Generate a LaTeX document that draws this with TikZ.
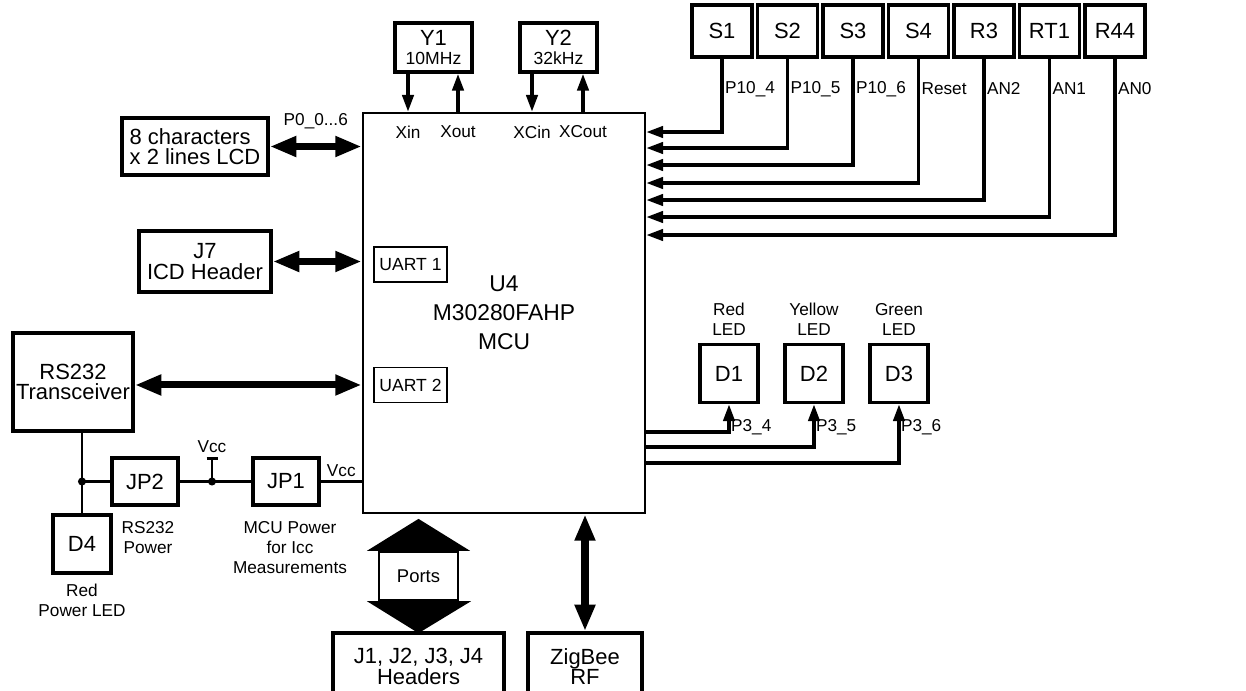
\documentclass[tikz,border=0pt]{standalone}
\usepackage{fontspec}
\setmainfont{Liberation Sans}
\usetikzlibrary{arrows.meta,positioning}

\newcommand{\bigtxt}{\fontsize{12.5}{11.5}\selectfont}
\newcommand{\smalltxt}{\fontsize{9.8}{11.3}\selectfont}

\tikzstyle{block} = [draw, rectangle, line width=2.2pt, fill=white, text centered, align=center, inner sep=0pt, font=\bigtxt]
\tikzstyle{swbox} = [block, minimum width=1.2cm, minimum height=1.04cm]
\tikzstyle{ledbox} = [block, minimum width=1.16cm, minimum height=1.16cm]
\tikzstyle{jpbox} = [block, minimum width=1.32cm, minimum height=0.94cm]
\tikzstyle{xtal} = [block, minimum width=1.54cm, minimum height=0.98cm]
\tikzstyle{uart} = [draw, rectangle, line width=0.9pt, inner sep=0pt, minimum width=1.46cm, minimum height=0.7cm, font=\fontsize{10}{11}\selectfont]
\tikzstyle{pin} = [font=\smalltxt, inner sep=1pt, align=center]
\tikzstyle{sig} = [draw, line width=1.8pt, -{Triangle[length=9.5pt,width=6.5pt]}]
\tikzstyle{bus} = [draw, line width=4pt, {Triangle[length=15pt,width=11pt]}-{Triangle[length=15pt,width=11pt]}]
\tikzstyle{wire} = [draw, line width=1.7pt]

\begin{document}
\begin{tikzpicture}[x=0.02cm, y=-0.02cm, node distance=1.31cm]
    \useasboundingbox (0,0) rectangle (1246,690);
    \clip (0,0) rectangle (1246,690);
    % Place nodes
    \node [block, line width=1.6pt, minimum width=5.64cm, minimum height=8cm, font=\fontsize{13}{16.4}\selectfont] (mcu) at (504,313) {U4\\M30280FAHP\\MCU};
    \node [uart] (uart1) at (410.5,264.5) {UART 1};
    \node [uart, below of=uart1, node distance=2.41cm] (uart2) {UART 2};
    \node [xtal] (y1) at (433.5,47.5) {Y1\\[-1pt]{\fontsize{10}{11}\selectfont 10MHz}};
    \node [xtal, right of=y1, node distance=2.5cm] (y2) {Y2\\[-1pt]{\fontsize{10}{11}\selectfont 32kHz}};
    \node [pin] (xin) at (408,132) {Xin};
    \node [pin] (xout) at (458,132) {Xout};
    \node [pin] (xcin) at (532,132) {XCin};
    \node [pin] (xcout) at (583,132) {XCout};
    \node [swbox] (s1) at (722,31) {S1};
    \node [swbox, right of=s1] (s2) {S2};
    \node [swbox, right of=s2] (s3) {S3};
    \node [swbox, right of=s3] (s4) {S4};
    \node [swbox, right of=s4] (r3) {R3};
    \node [swbox, right of=r3] (rt1) {RT1};
    \node [swbox, right of=rt1] (r44) {R44};
    \node [block, align=left, minimum width=2.92cm, minimum height=1.14cm] (lcd) at (195,146.5) {8 characters\\x 2 lines LCD};
    \node [block, minimum width=2.64cm, minimum height=1.22cm] (j7) at (205,261.5) {J7\\ICD Header};
    \node [block, minimum width=2.4cm, minimum height=1.96cm] (rs) at (73,382) {RS232\\Transceiver};
    \node [jpbox] (jp2) at (145,481.5) {JP2};
    \node [jpbox, right of=jp2, node distance=2.82cm] (jp1) {JP1};
    \node [ledbox] (d4) at (82,544) {D4};
    \node [pin, below=4pt of d4] (d4lbl) {Red\\Power LED};
    \node [pin, below=7pt of jp2, xshift=0.06cm] (jp2lbl) {RS232\\Power};
    \node [pin, below=7pt of jp1, xshift=0.08cm] (jp1lbl) {MCU Power\\for Icc\\Measurements};
    \node [ledbox] (d1) at (729,373.5) {D1};
    \node [ledbox, right of=d1, node distance=1.7cm] (d2) {D2};
    \node [ledbox, right of=d2, node distance=1.7cm] (d3) {D3};
    \node [pin, above=3pt of d1] (d1lbl) {Red\\LED};
    \node [pin, above=3pt of d2] (d2lbl) {Yellow\\LED};
    \node [pin, above=3pt of d3] (d3lbl) {Green\\LED};
    \node [draw, line width=1.3pt, minimum width=1.58cm, minimum height=0.96cm, font=\fontsize{10.5}{12}\selectfont] (ports) at (418.5,576) {Ports};
    \node [block, minimum width=3.42cm, minimum height=1.34cm] (hdr) at (418.5,666.5) {J1, J2, J3, J4\\Headers};
    \node [block, minimum width=2.28cm, minimum height=1.34cm] (zig) at (585,666.5) {ZigBee\\RF};
    % Draw edges
    \draw [sig] (y1.south -| xin) -- (mcu.north -| xin);
    \draw [sig] (mcu.north -| xout) -- (y1.south -| xout);
    \draw [sig] (y2.south -| xcin) -- (mcu.north -| xcin);
    \draw [sig] (mcu.north -| xcout) -- (y2.south -| xcout);
    \foreach \nm/\yy/\lab in {s1/132/P10\_4, s2/148/P10\_5, s3/165/P10\_6, s4/183/Reset, r3/200/AN2, rt1/217/AN1, r44/235/AN0} {
        \draw [sig] (\nm.south) |- (mcu.east |- 0,\yy);
        \node [pin, anchor=west] at ([shift={(1,30)}]\nm.south) {\lab};
    }
    \foreach \nm/\yy/\lab in {d1/432/P3\_4, d2/447/P3\_5, d3/463/P3\_6} {
        \draw [sig] (mcu.east |- 0,\yy) -| (\nm.south);
        \node [pin, anchor=west] at ([shift={(0,23)}]\nm.south) {\lab};
    }
    \draw [bus] (lcd.east) -- node[pin, above=7pt]{P0\_0...6} (mcu.west |- lcd.east);
    \draw [bus] (j7.east) -- (mcu.west |- j7.east);
    \draw [bus] (rs.east |- uart2) -- (mcu.west |- uart2);
    \draw [bus] (mcu.south -| zig.north) -- (zig.north);
    % Ports arrow
    \fill ([xshift=-0.22cm]ports.north west) -- ([yshift=0.64cm]ports.north) -- ([xshift=0.22cm]ports.north east) -- cycle;
    \fill ([xshift=-0.22cm]ports.south west) -- ([yshift=-0.64cm]ports.south) -- ([xshift=0.24cm]ports.south east) -- cycle;
    % Power
    \coordinate (jd) at (d4.north |- jp2.west);
    \coordinate (vj) at (212,481.5);
    \draw [wire] (rs.south -| d4.north) -- (d4.north);
    \draw [wire] (jd) -- (jp2.west);
    \draw [wire] (jp2.east) -- (jp1.west);
    \draw [wire] (jp1.east) -- node[pin, above=1pt]{Vcc} (mcu.west |- jp1.east);
    \draw [wire] (vj) -- ++(0,-23) coordinate (vtop);
    \draw [line width=2pt] ([xshift=-0.11cm]vtop) -- ([xshift=0.11cm]vtop);
    \node [pin, above=2pt of vtop] (vcc) {Vcc};
    \fill (jd) circle (2.3pt);
    \fill (vj) circle (2.3pt);
\end{tikzpicture}
\end{document}
